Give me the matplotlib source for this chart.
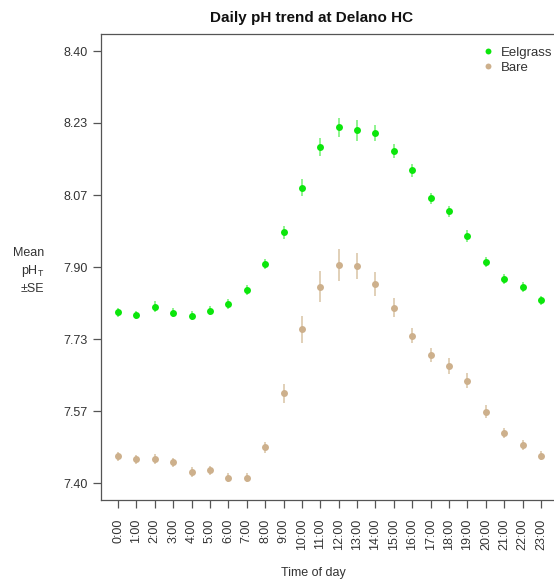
import numpy as np
import matplotlib
matplotlib.use("Agg")
import matplotlib.pyplot as plt

plt.rcParams["font.family"] = ["Liberation Sans", "DejaVu Sans"]

# hourly means and standard errors
hours = list(range(24))
hour_labels = ["%d:00" % h for h in hours]

eelgrass_mean = [7.795, 7.789, 7.808, 7.794, 7.787, 7.799, 7.814, 7.847,
                 7.907, 7.980, 8.084, 8.178, 8.223, 8.216, 8.210, 8.169,
                 8.124, 8.059, 8.029, 7.972, 7.912, 7.872, 7.854, 7.823]
eelgrass_se = [0.010, 0.010, 0.013, 0.010, 0.010, 0.010, 0.011, 0.012,
               0.012, 0.016, 0.019, 0.021, 0.023, 0.024, 0.019, 0.016,
               0.015, 0.013, 0.013, 0.013, 0.012, 0.012, 0.012, 0.011]

bare_mean = [7.462, 7.455, 7.455, 7.448, 7.425, 7.429, 7.412, 7.412,
             7.483, 7.608, 7.756, 7.854, 7.904, 7.902, 7.861, 7.806,
             7.741, 7.696, 7.671, 7.637, 7.565, 7.516, 7.488, 7.463]
bare_se = [0.010, 0.010, 0.011, 0.011, 0.011, 0.010, 0.010, 0.010,
           0.013, 0.022, 0.031, 0.036, 0.037, 0.030, 0.028, 0.022,
           0.018, 0.017, 0.018, 0.017, 0.015, 0.012, 0.011, 0.010]

y_ticks = np.linspace(7.4, 8.4, 7)

green = "#0be60b"
tan = "#cdb08c"
gray = "#555555"
text_col = "#333333"

W, H = 554, 579
fig = plt.figure(figsize=(W / 100, H / 100), dpi=100)

# plot box (right side runs past the edge of the image, like the original)
ax = fig.add_axes([101 / W, 1 - 500 / H, 469 / W, 466 / H])

ax.errorbar(hours, eelgrass_mean, yerr=eelgrass_se, fmt="none",
            ecolor="#7cf27c", elinewidth=1.2, capsize=0)
ax.errorbar(hours, bare_mean, yerr=bare_se, fmt="none",
            ecolor="#dcc8ac", elinewidth=1.2, capsize=0)
ax.plot(hours, eelgrass_mean, "o", color=green, ms=5, mec="none",
        label="Eelgrass")
ax.plot(hours, bare_mean, "o", color=tan, ms=5, mec="none", label="Bare")

ax.set_xlim(-17 / 18.39, 23 + 29 / 18.39)
ax.set_ylim(7.4 - 17 / 432, 8.4 + 17 / 432)

ax.set_xticks(hours)
ax.set_xticklabels(hour_labels, rotation=90, va="top")
ax.set_yticks(y_ticks)
ax.set_yticklabels(["%.2f" % v for v in y_ticks])
ax.tick_params(axis="both", colors=gray, labelcolor=text_col,
               labelsize=9, length=5.5, width=0.9)
ax.tick_params(axis="x", pad=8)
ax.tick_params(axis="y", pad=4)

for side in ["left", "bottom", "top"]:
    ax.spines[side].set_color(gray)
    ax.spines[side].set_linewidth(0.9)
ax.spines["right"].set_visible(False)

fig.text(312 / W, 1 - 18 / H, "Daily pH trend at Delano HC",
         ha="center", va="center", fontsize=11, fontweight="bold",
         color="#111111")
fig.text(313 / W, 1 - 573 / H, "Time of day", ha="center", va="center",
         fontsize=9, color=text_col)
fig.text(44 / W, 1 - 271 / H, "Mean\npH$_\\mathregular{T}$\n\u00b1SE",
         ha="right", va="center", fontsize=9, color=text_col,
         multialignment="right", linespacing=1.4)

ax.legend(loc="upper left", bbox_to_anchor=(475 / W, 1 - 40 / H),
          bbox_transform=fig.transFigure, frameon=False, fontsize=9.5,
          handlelength=1.0, handletextpad=0.45, borderpad=0,
          labelspacing=0.2, labelcolor=text_col, markerscale=0.85)

fig.savefig("out.png", dpi=100)
